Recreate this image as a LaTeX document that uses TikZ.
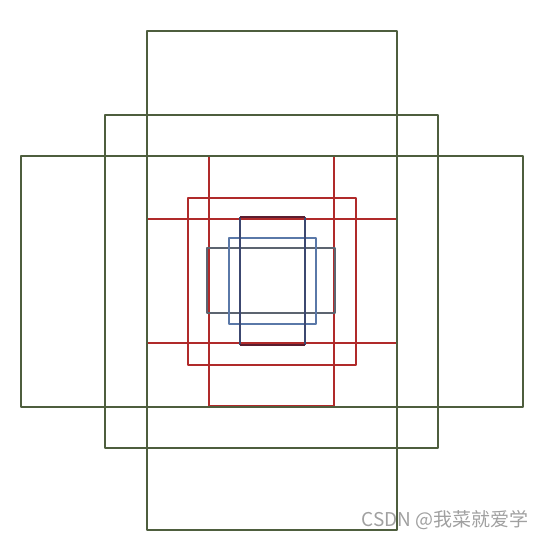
\documentclass[tikz,border=0pt]{standalone}
\usepackage{fontspec}
\newfontfamily\cjkfont{Noto Sans CJK SC}
\definecolor{gbox}{HTML}{4E5E3E}
\definecolor{rbox}{HTML}{B02A2A}
\definecolor{bbox}{HTML}{5A78A8}
\definecolor{mbox}{HTML}{5A1E30}
\definecolor{nbox}{HTML}{3C4870}
\definecolor{kbox}{HTML}{5C6470}
\definecolor{wm}{HTML}{A0A0A0}
\begin{document}
\begin{tikzpicture}[x=1pt,y=-1pt,
  boxline/.style={line width=1.8pt,line join=round}]
\useasboundingbox (0,0) rectangle (543,540);
% red anchor boxes
\draw[boxline,rbox] (209,156) rectangle (334,406);
\draw[boxline,rbox] (188,198) rectangle (356,365);
\draw[boxline,rbox] (147,219) rectangle (397,343);
% inner boxes
\draw[boxline,kbox] (207,248) rectangle (335,313);
\draw[boxline,bbox] (229,238) rectangle (316,324);
\draw[boxline,nbox] (240,217) -- (240,345) (305,217) -- (305,345);
\draw[boxline,mbox] (240,217) -- (305,217) (240,345) -- (305,345);
% green anchor boxes
\draw[boxline,gbox] (147,31) rectangle (397,530);
\draw[boxline,gbox] (105,115) rectangle (438,448);
\draw[boxline,gbox] (21,156) rectangle (523,407);
% watermark
\node[anchor=south east,inner sep=0pt,text=wm,font=\cjkfont\fontsize{19}{19}\selectfont] (wmark) at (529,530) {CSDN @我菜就爱学};
\end{tikzpicture}
\end{document}
